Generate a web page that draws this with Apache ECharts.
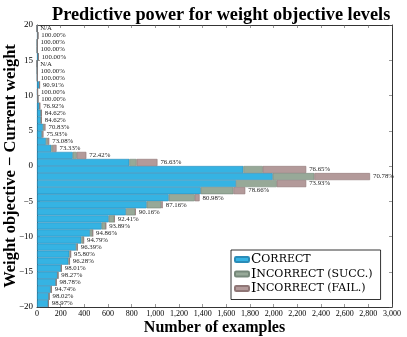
<!DOCTYPE html>
<html>
<head>
<meta charset="UTF-8" />
<title>Predictive power for weight objective levels</title>
<style>
  body { margin: 0; padding: 0; background: #fff; }
  #chart { width: 407px; height: 337px; }
</style>
</head>
<body>
<div id="chart"></div>
<script src="https://cdn.jsdelivr.net/npm/echarts@6/dist/echarts.min.js"></script>
<script>
// weight objective - current weight, top row to bottom row
const levels = [19, 18, 17, 16, 15, 14, 13, 12, 11, 10, 9, 8, 7, 6, 5, 4, 3, 2, 1, 0,
  -1, -2, -3, -4, -5, -6, -7, -8, -9, -10, -11, -12, -13, -14, -15, -16, -17, -18, -19, -20];

const correct = [0, 8, 2, 2, 12, 0, 2, 3, 20, 5, 8, 20, 33, 33, 51, 41, 76, 121, 302, 780,
  1744, 1992, 1682, 1384, 1113, 927, 752, 606, 547, 448, 375, 330, 273, 265, 203, 175, 161, 116, 101, 96];
const incorrectSucc = [0, 0, 0, 0, 0, 0, 0, 0, 2, 0, 0, 3, 4, 4, 10, 6, 16, 14, 34, 62,
  164, 352, 344, 276, 220, 123, 79, 48, 34, 23, 19, 12, 12, 10, 4, 3, 2, 6, 2, 1];
const incorrectFail = [0, 0, 0, 0, 0, 0, 0, 0, 0, 0, 0, 3, 2, 2, 11, 7, 12, 30, 81, 176,
  367, 470, 249, 100, 41, 13, 3, 2, 2, 1, 1, 0, 0, 0, 0, 0, 0, 0, 0, 0];

const pctLabels = ['N/A', '100.00%', '100.00%', '100.00%', '100.00%', 'N/A', '100.00%', '100.00%',
  '90.91%', '100.00%', '100.00%', '76.92%', '84.62%', '84.62%', '70.83%', '75.93%', '73.08%',
  '73.33%', '72.42%', '76.63%', '76.65%', '70.78%', '73.93%', '78.66%', '80.98%', '87.16%',
  '90.16%', '92.41%', '93.89%', '94.86%', '94.79%', '96.39%', '95.80%', '96.28%', '98.01%',
  '98.27%', '98.78%', '94.74%', '98.02%', '98.97%'];

const serif = '"Liberation Serif", "DejaVu Serif", serif';
const wideSerif = '"DejaVu Serif", "Liberation Serif", serif';

const smallCaps = {
  'Correct': '{a|C}{b|ORRECT}',
  'Incorrect (succ.)': '{a|I}{b|NCORRECT (SUCC.)}',
  'Incorrect (fail.)': '{a|I}{b|NCORRECT (FAIL.)}'
};

const chart = echarts.init(document.getElementById('chart'));

const frameLine = { show: true, onZero: false, lineStyle: { color: '#000', width: 0.8 } };
const inTick = { show: true, inside: true, length: 3, lineStyle: { color: '#555', width: 0.6 } };

function barSeries(name, data, color, border, withLabel) {
  return {
    name: name,
    type: 'bar',
    stack: 'total',
    xAxisIndex: 0,
    yAxisIndex: 0,
    barCategoryGap: '0%',
    data: data,
    itemStyle: { color: color, borderColor: border, borderWidth: 0.6 },
    label: withLabel ? {
      show: true,
      position: 'right',
      distance: 3,
      fontFamily: serif,
      fontSize: 6.8,
      color: '#222',
      formatter: p => pctLabels[p.dataIndex]
    } : { show: false },
    emphasis: { disabled: true },
    animation: false
  };
}

chart.setOption({
  animation: false,
  title: {
    text: 'Predictive power for weight objective levels',
    left: 47,
    top: 1,
    textStyle: { fontFamily: serif, fontWeight: 'bold', fontSize: 18.3, color: '#000' }
  },
  grid: { left: 37, right: 15, top: 25, bottom: 30, containLabel: false, outerBoundsMode: 'none' },
  legend: {
    orient: 'vertical',
    left: 231,
    top: 250,
    itemWidth: 14,
    itemHeight: 5,
    itemGap: 0.5,
    padding: [2.5, 8, 4, 3],
    backgroundColor: '#fff',
    borderColor: '#000',
    borderWidth: 0.8,
    borderRadius: 0,
    data: ['Correct', 'Incorrect (succ.)', 'Incorrect (fail.)'],
    formatter: name => smallCaps[name],
    textStyle: {
      padding: [0, 0, 0, -3],
      rich: {
        a: { fontFamily: wideSerif, fontSize: 13.5, lineHeight: 14, color: '#000' },
        b: { fontFamily: wideSerif, fontSize: 11, lineHeight: 14, color: '#000' }
      }
    }
  },
  xAxis: [
    {
      type: 'value', min: 0, max: 3000, interval: 200, position: 'bottom',
      name: 'Number of examples', nameLocation: 'middle', nameGap: 13, nameMoveOverlap: false,
      nameTextStyle: { fontFamily: serif, fontWeight: 'bold', fontSize: 16, color: '#000' },
      axisLine: frameLine, axisTick: inTick, splitLine: { show: false },
      axisLabel: {
        fontFamily: serif, fontSize: 8, color: '#000', margin: 3,
        formatter: v => v.toLocaleString('en-US')
      }
    },
    {
      type: 'value', min: 0, max: 3000, interval: 200, position: 'top',
      axisLine: frameLine, axisTick: inTick, splitLine: { show: false },
      axisLabel: { show: false }
    }
  ],
  yAxis: [
    { type: 'category', data: levels, inverse: true, show: false },
    {
      type: 'value', min: -20, max: 20, interval: 5, position: 'left',
      name: 'Weight objective \u2212 Current weight', nameLocation: 'middle', nameGap: 18, nameMoveOverlap: false,
      nameTextStyle: { fontFamily: serif, fontWeight: 'bold', fontSize: 16.5, color: '#000' },
      axisLine: frameLine, axisTick: inTick, splitLine: { show: false },
      axisLabel: {
        fontFamily: serif, fontSize: 9, color: '#000', margin: 4,
        formatter: v => (v < 0 ? '\u2212' + Math.abs(v) : String(v))
      }
    },
    {
      type: 'value', min: -20, max: 20, interval: 5, position: 'right',
      axisLine: frameLine, axisTick: inTick, splitLine: { show: false },
      axisLabel: { show: false }
    }
  ],
  series: [
    barSeries('Correct', correct, '#35b3e3', '#2a8cb8', false),
    barSeries('Incorrect (succ.)', incorrectSucc, '#97a998', '#76887a', false),
    barSeries('Incorrect (fail.)', incorrectFail, '#b39a9a', '#8f7676', true)
  ]
});
</script>
</body>
</html>
